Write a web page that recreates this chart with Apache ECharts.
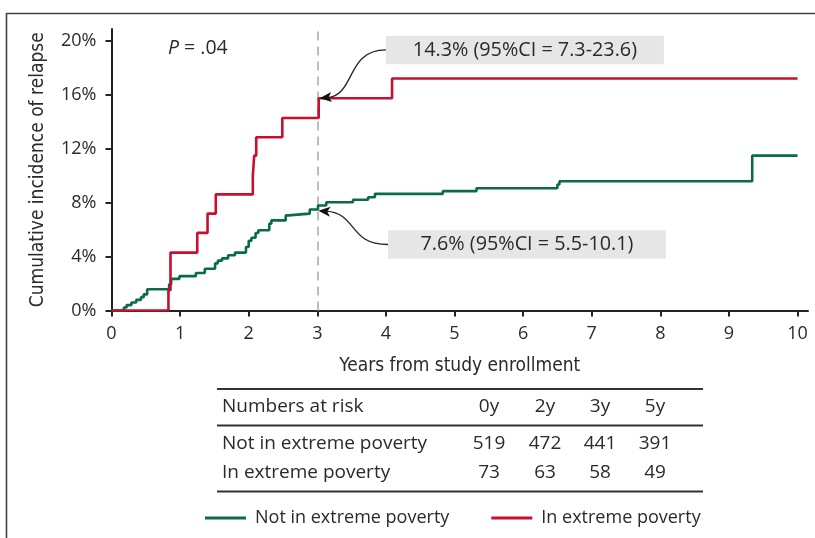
<!DOCTYPE html>
<html><head><meta charset="utf-8">
<script src="https://cdn.jsdelivr.net/npm/echarts@6/dist/echarts.min.js"></script>
<style>html,body{margin:0;padding:0;background:#fff}#c{width:815px;height:538px}</style>
</head><body><div id="c"></div>
<script>
// ---- data ----
const seriesNames = ['Not in extreme poverty', 'In extreme poverty'];
const notPovertyX = [0, 0.18, 0.22, 0.29, 0.36, 0.43, 0.47, 0.52, 0.84, 0.87, 0.99, 1.23, 1.36, 1.51, 1.55, 1.61, 1.70, 1.80, 1.96, 2.00, 2.04, 2.10, 2.14, 2.30, 2.33, 2.54, 2.58, 2.89, 3.01, 3.13, 3.52, 3.74, 3.84, 4.83, 5.32, 6.50, 6.53, 9.34, 10];
const notPovertyY = [0, 0.22, 0.4, 0.59, 0.79, 0.99, 1.2, 1.58, 1.95, 2.35, 2.55, 2.78, 3.1, 3.5, 3.7, 3.87, 4.1, 4.3, 4.72, 5.17, 5.4, 5.75, 5.96, 6.45, 6.69, 7.06, 7.19, 7.5, 7.8, 8.04, 8.22, 8.41, 8.66, 8.86, 9.08, 9.35, 9.6, 11.5, 11.5];
const povertyX = [0, 0.83, 0.86, 1.25, 1.40, 1.52, 2.06, 2.08, 2.11, 2.49, 3.02, 4.09, 10];
const povertyY = [0, 1.5, 4.3, 5.76, 7.19, 8.62, 10.0, 11.5, 12.86, 14.29, 15.76, 17.22, 17.22];
const xTicks = [0, 1, 2, 3, 4, 5, 6, 7, 8, 9, 10];
const yTicks = [0, 4, 8, 12, 16, 20];
const landmarkYear = 3;
const annotX = [3.02, 3.0];
const annotY = [15.76, 7.4];
const annotTexts = ['14.3% (95%CI = 7.3-23.6)', '7.6% (95%CI = 5.5-10.1)'];
const pValueText = '.04';
const riskHeader = 'Numbers at risk';
const riskTimes = ['0y', '2y', '3y', '5y'];
const riskNotPoverty = [519, 472, 441, 391];
const riskPoverty = [73, 63, 58, 49];

// ---- chart ----
const GREEN = '#0a6b4b', RED = '#c8102e', TXT = '#2a2a2a';
const FONT = '"Open Sans", Lato, sans-serif';
const NARROW = '"DejaVu Sans Condensed", sans-serif';
const zip = (xs, ys) => xs.map((x, i) => [x, ys[i]]);
const chart = echarts.init(document.getElementById('c'), null, {renderer: 'canvas'});

chart.setOption({
  animation: false,
  backgroundColor: '#fff',
  grid: {left: 111.5, right: 7, top: 29, bottom: 227.5, containLabel: false},
  xAxis: {
    type: 'value', min: 0, max: 10.153,
    name: 'Years from study enrollment', nameLocation: 'middle', nameGap: 46,
    nameTextStyle: {fontFamily: NARROW, fontSize: 19, color: TXT},
    axisLine: {lineStyle: {color: '#222', width: 2}},
    axisTick: {customValues: xTicks, length: 6, lineStyle: {color: '#222', width: 2}},
    axisLabel: {customValues: xTicks, margin: 14, fontFamily: FONT, fontSize: 18, color: TXT},
    splitLine: {show: false}
  },
  yAxis: {
    type: 'value', min: 0, max: 20.9,
    name: 'Cumulative incidence of relapse', nameLocation: 'middle', nameGap: 64,
    nameTextStyle: {fontFamily: NARROW, fontSize: 19, color: TXT},
    axisLine: {show: true, lineStyle: {color: '#222', width: 2}},
    axisTick: {show: true, customValues: yTicks, length: 6, lineStyle: {color: '#222', width: 2}},
    axisLabel: {customValues: yTicks, margin: 15, fontFamily: FONT, fontSize: 18, color: TXT, formatter: '{value}%'},
    splitLine: {show: false}
  },
  legend: {
    data: seriesNames, left: 200, top: 504, icon: 'rect', itemWidth: 41, itemHeight: 3, itemGap: 42,
    textStyle: {fontFamily: FONT, fontSize: 18, color: TXT, padding: [0, 0, 0, 4]}
  },
  series: [
    {
      name: seriesNames[0], type: 'line', step: 'end', showSymbol: false, symbol: 'none',
      data: zip(notPovertyX, notPovertyY), color: GREEN, lineStyle: {width: 2.6, color: GREEN}, z: 3,
      markLine: {
        silent: true, symbol: 'none', label: {show: false},
        lineStyle: {color: '#bdbdbd', width: 2, type: [9, 6]},
        data: [{xAxis: landmarkYear}], z: 1
      }
    },
    {
      name: seriesNames[1], type: 'line', step: 'end', showSymbol: false, symbol: 'none',
      data: zip(povertyX, povertyY), color: RED, lineStyle: {width: 2.6, color: RED}, z: 4
    }
  ]
});

function buildGraphics() {
  const P = (x, y) => chart.convertToPixel({gridIndex: 0}, [x, y]);
  const g = [];
  // outer frame (only top and left visible)
  g.push({type: 'rect', shape: {x: 6.5, y: 13.5, width: 1000, height: 1000}, style: {fill: 'none', stroke: '#444', lineWidth: 1.6}, silent: true});
  // P value
  g.push({type: 'text', x: 168, y: 48, style: {
    text: '{i|P} = ' + pValueText, verticalAlign: 'middle',
    rich: {i: {fontStyle: 'italic', fontFamily: FONT, fontSize: 19.5, fill: TXT}},
    font: '19.5px ' + FONT, fill: TXT}});
  // annotations
  const boxes = [{x: 4.0, y: 19.35}, {x: 4.03, y: 4.9}];
  const bw = 278, bh = 28.5;
  annotTexts.forEach((t, i) => {
    const b = P(boxes[i].x, boxes[i].y);
    g.push({type: 'rect', shape: {x: b[0], y: b[1] - bh / 2, width: bw, height: bh}, style: {fill: '#e6e6e6'}, z: 5});
    g.push({type: 'text', x: b[0] + bw / 2, y: b[1], z: 6, style: {text: t, align: 'center', verticalAlign: 'middle', font: '19.8px ' + FONT, fill: TXT}});
    const tip = P(annotX[i], annotY[i]);
    const tx = tip[0] + 1, ty = tip[1];
    const dy = ty - b[1];
    const c1 = [b[0] - 40, b[1]];
    const c2 = [b[0] - 30, ty - dy * 0.08];
    g.push({type: 'bezierCurve', z: 6, shape: {x1: b[0], y1: b[1], cpx1: c1[0], cpy1: c1[1], cpx2: c2[0], cpy2: c2[1], x2: tx + 8, y2: ty + (c2[1] - ty) * 0.12}, style: {stroke: '#222', lineWidth: 1.3, fill: 'none'}});
    // arrowhead
    const ang = Math.atan2(ty - c2[1], tx - c2[0]);
    const L = 12, W = 5;
    const bx = tx - L * Math.cos(ang), by = ty - L * Math.sin(ang);
    const px = -Math.sin(ang) * W, py = Math.cos(ang) * W;
    g.push({type: 'polygon', z: 7, shape: {points: [[tx, ty], [bx + px, by + py], [bx + 3 * Math.cos(ang), by + 3 * Math.sin(ang)], [bx - px, by - py]]}, style: {fill: '#111'}});
  });
  // numbers at risk table
  const tl = 217, tr = 703;
  const rules = [389, 425.5, 491.5];
  rules.forEach(y => g.push({type: 'line', shape: {x1: tl, y1: y, x2: tr, y2: y}, style: {stroke: '#333', lineWidth: 2}}));
  const colX = [489, 545, 600, 655];
  const rowY = [407, 443.5, 472.5];
  const txt = (s, x, y, align) => g.push({type: 'text', x: x, y: y, style: {text: String(s), align: align, verticalAlign: 'middle', font: '19px ' + FONT, fill: TXT}});
  txt(riskHeader, 222, rowY[0], 'left');
  txt(seriesNames[0], 222, rowY[1], 'left');
  txt(seriesNames[1], 222, rowY[2], 'left');
  riskTimes.forEach((s, i) => txt(s, colX[i], rowY[0], 'center'));
  riskNotPoverty.forEach((s, i) => txt(s, colX[i], rowY[1], 'center'));
  riskPoverty.forEach((s, i) => txt(s, colX[i], rowY[2], 'center'));
  chart.setOption({graphic: g});
}
buildGraphics();
</script>
</body></html>
